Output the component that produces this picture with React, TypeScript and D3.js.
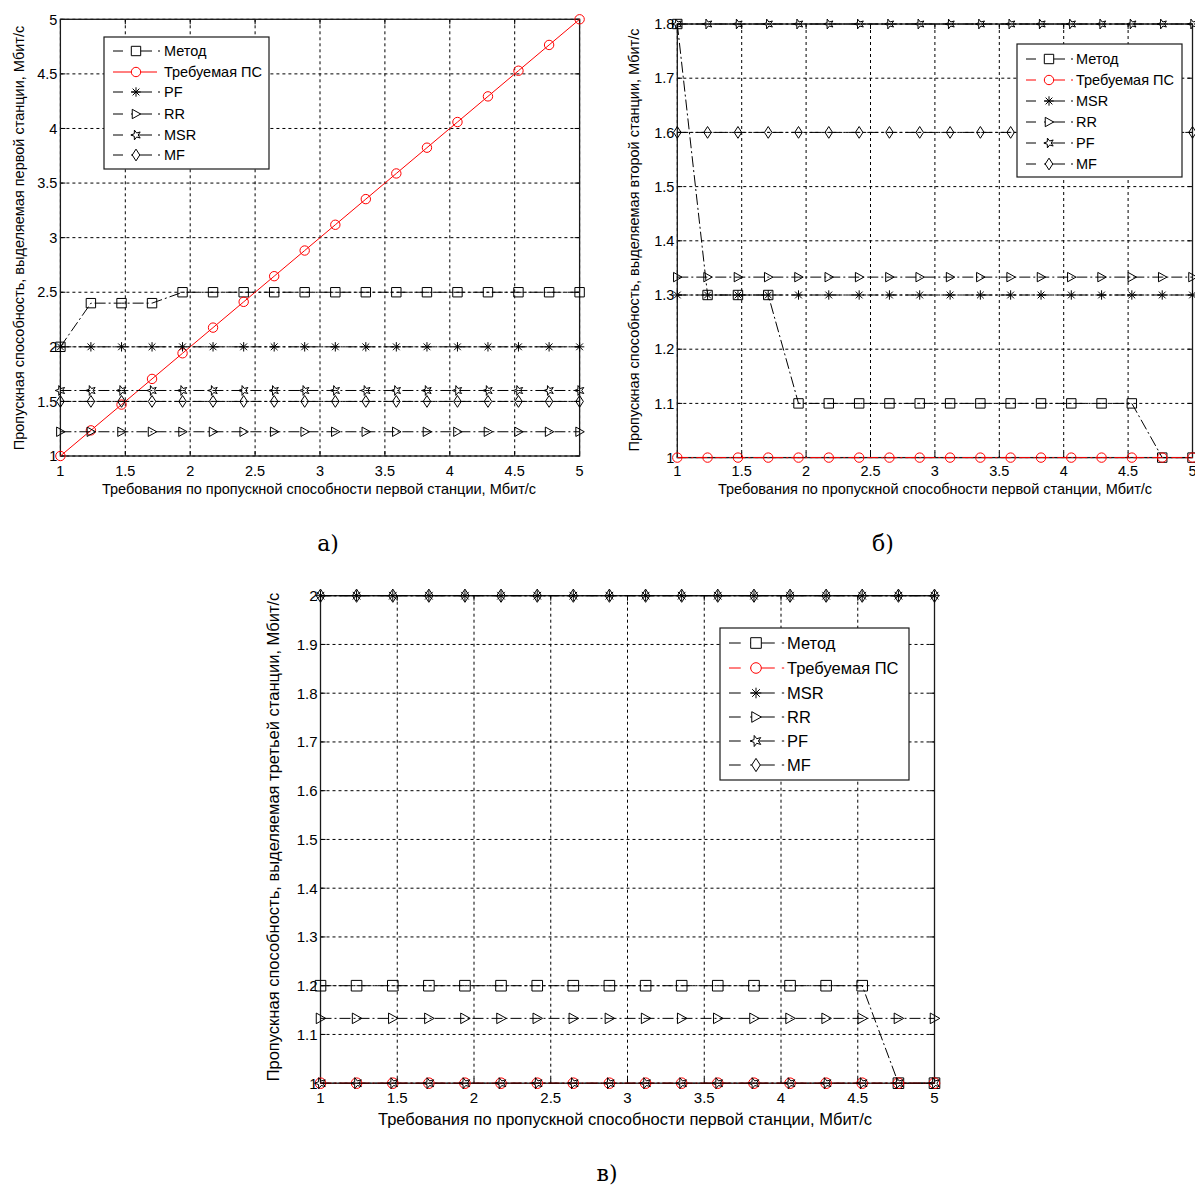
import React from 'react';
import * as d3 from 'd3';

// ---------- data ----------
const X_VALUES = [1, 1.235, 1.471, 1.706, 1.941, 2.176, 2.412, 2.647, 2.882, 3.118, 3.353, 3.588, 3.824, 4.059, 4.294, 4.529, 4.765, 5];
const X_TICKS = [1, 1.5, 2, 2.5, 3, 3.5, 4, 4.5, 5];
const X_TICK_LABELS = ['1', '1.5', '2', '2.5', '3', '3.5', '4', '4.5', '5'];

// panel а (first station)
const A_METOD = [2, 2.4, 2.4, 2.4, 2.5, 2.5, 2.5, 2.5, 2.5, 2.5, 2.5, 2.5, 2.5, 2.5, 2.5, 2.5, 2.5, 2.5];
const A_REQ = [1, 1.235, 1.471, 1.706, 1.941, 2.176, 2.412, 2.647, 2.882, 3.118, 3.353, 3.588, 3.824, 4.059, 4.294, 4.529, 4.765, 5];
const A_PF = [2, 2, 2, 2, 2, 2, 2, 2, 2, 2, 2, 2, 2, 2, 2, 2, 2, 2];
const A_RR = [1.222, 1.222, 1.222, 1.222, 1.222, 1.222, 1.222, 1.222, 1.222, 1.222, 1.222, 1.222, 1.222, 1.222, 1.222, 1.222, 1.222, 1.222];
const A_MSR = [1.6, 1.6, 1.6, 1.6, 1.6, 1.6, 1.6, 1.6, 1.6, 1.6, 1.6, 1.6, 1.6, 1.6, 1.6, 1.6, 1.6, 1.6];
const A_MF = [1.5, 1.5, 1.5, 1.5, 1.5, 1.5, 1.5, 1.5, 1.5, 1.5, 1.5, 1.5, 1.5, 1.5, 1.5, 1.5, 1.5, 1.5];
const A_Y_TICKS = [1, 1.5, 2, 2.5, 3, 3.5, 4, 4.5, 5];
const A_Y_TICK_LABELS = ['1', '1.5', '2', '2.5', '3', '3.5', '4', '4.5', '5'];

// panel б (second station)
const B_METOD = [1.8, 1.3, 1.3, 1.3, 1.1, 1.1, 1.1, 1.1, 1.1, 1.1, 1.1, 1.1, 1.1, 1.1, 1.1, 1.1, 1, 1];
const B_REQ = [1, 1, 1, 1, 1, 1, 1, 1, 1, 1, 1, 1, 1, 1, 1, 1, 1, 1];
const B_MSR = [1.3, 1.3, 1.3, 1.3, 1.3, 1.3, 1.3, 1.3, 1.3, 1.3, 1.3, 1.3, 1.3, 1.3, 1.3, 1.3, 1.3, 1.3];
const B_RR = [1.333, 1.333, 1.333, 1.333, 1.333, 1.333, 1.333, 1.333, 1.333, 1.333, 1.333, 1.333, 1.333, 1.333, 1.333, 1.333, 1.333, 1.333];
const B_PF = [1.8, 1.8, 1.8, 1.8, 1.8, 1.8, 1.8, 1.8, 1.8, 1.8, 1.8, 1.8, 1.8, 1.8, 1.8, 1.8, 1.8, 1.8];
const B_MF = [1.6, 1.6, 1.6, 1.6, 1.6, 1.6, 1.6, 1.6, 1.6, 1.6, 1.6, 1.6, 1.6, 1.6, 1.6, 1.6, 1.6, 1.6];
const B_Y_TICKS = [1, 1.1, 1.2, 1.3, 1.4, 1.5, 1.6, 1.7, 1.8];
const B_Y_TICK_LABELS = ['1', '1.1', '1.2', '1.3', '1.4', '1.5', '1.6', '1.7', '1.8'];

// panel в (third station)
const C_METOD = [1.2, 1.2, 1.2, 1.2, 1.2, 1.2, 1.2, 1.2, 1.2, 1.2, 1.2, 1.2, 1.2, 1.2, 1.2, 1.2, 1, 1];
const C_REQ = [1, 1, 1, 1, 1, 1, 1, 1, 1, 1, 1, 1, 1, 1, 1, 1, 1, 1];
const C_MSR = [2, 2, 2, 2, 2, 2, 2, 2, 2, 2, 2, 2, 2, 2, 2, 2, 2, 2];
const C_RR = [1.133, 1.133, 1.133, 1.133, 1.133, 1.133, 1.133, 1.133, 1.133, 1.133, 1.133, 1.133, 1.133, 1.133, 1.133, 1.133, 1.133, 1.133];
const C_PF = [1, 1, 1, 1, 1, 1, 1, 1, 1, 1, 1, 1, 1, 1, 1, 1, 1, 1];
const C_MF = [2, 2, 2, 2, 2, 2, 2, 2, 2, 2, 2, 2, 2, 2, 2, 2, 2, 2];
const C_Y_TICKS = [1, 1.1, 1.2, 1.3, 1.4, 1.5, 1.6, 1.7, 1.8, 1.9, 2];
const C_Y_TICK_LABELS = ['1', '1.1', '1.2', '1.3', '1.4', '1.5', '1.6', '1.7', '1.8', '1.9', '2'];

const A_NAMES = ['Метод', 'Требуемая ПС', 'PF', 'RR', 'MSR', 'MF'];
const BC_NAMES = ['Метод', 'Требуемая ПС', 'MSR', 'RR', 'PF', 'MF'];

const X_LABEL = 'Требования по пропускной способности первой станции, Мбит/с';
const Y_LABELS = [
  'Пропускная способность, выделяемая первой станции, Мбит/с',
  'Пропускная способность, выделяемая второй станции, Мбит/с',
  'Пропускная способность, выделяемая третьей станции, Мбит/с',
];

// ---------- drawing ----------
const FONT = '"Liberation Sans", Arial, sans-serif';
const DASHDOT = '11,3,2,3';

type Marker = 'square' | 'circle' | 'asterisk' | 'tri' | 'star' | 'diamond';

function markerPath(kind: Marker, r: number): string {
  switch (kind) {
    case 'square':
      return `M${-r},${-r}H${r}V${r}H${-r}Z`;
    case 'circle':
      return `M${r},0A${r},${r} 0 1,1 ${-r},0A${r},${r} 0 1,1 ${r},0Z`;
    case 'asterisk': {
      const k = r * 0.72;
      return `M${-r},0H${r}M0,${-r}V${r}M${-k},${-k}L${k},${k}M${-k},${k}L${k},${-k}`;
    }
    case 'tri':
      return `M${-0.8 * r},${-r}L${r},0L${-0.8 * r},${r}Z`;
    case 'star': {
      const pts: string[] = [];
      for (let i = 0; i < 10; i++) {
        const rr = i % 2 === 0 ? r * 1.1 : r * 0.45;
        const a = Math.PI + (i * Math.PI) / 5;
        pts.push(`${(rr * Math.cos(a)).toFixed(2)},${(rr * Math.sin(a)).toFixed(2)}`);
      }
      return 'M' + pts.join('L') + 'Z';
    }
    case 'diamond':
      return `M0,${-1.25 * r}L${0.8 * r},0L0,${1.25 * r}L${-0.8 * r},0Z`;
  }
}

interface Series {
  name: string;
  values: number[];
  marker: Marker;
  color: string;
  solid?: boolean;
}

interface PanelCfg {
  left: number; right: number; top: number; bottom: number;
  yDomain: [number, number];
  yTicks: number[]; yTickLabels: string[];
  series: Series[];
  legend: { x0: number; y0: number; x1: number; y1: number; rows: number[]; lineX0: number; markerX: number; textX: number };
  tickFont: number; labelFont: number; legendFont: number;
  xLabelX: number; xLabelY: number; yLabelX: number; yLabelY: number;
  yLabel: string;
  tickBaseline: number;
  r: number;
}

function Panel({ cfg }: { cfg: PanelCfg }) {
  const x = d3.scaleLinear().domain([1, 5]).range([cfg.left, cfg.right]);
  const y = d3.scaleLinear().domain(cfg.yDomain).range([cfg.bottom, cfg.top]);
  const line = d3.line<number>().x((_, i) => x(X_VALUES[i])).y((d) => y(d));
  const L = cfg.legend;
  const s = (L.markerX - L.lineX0) / 23;
  const tk = 5;
  return (
    <g>
      {/* grid */}
      {X_TICKS.map((t, i) => (
        <line key={'gx' + i} x1={x(t)} x2={x(t)} y1={cfg.top} y2={cfg.bottom} stroke="#000" strokeWidth={1} strokeDasharray="3,3" />
      ))}
      {cfg.yTicks.map((t, i) => (
        <line key={'gy' + i} x1={cfg.left} x2={cfg.right} y1={y(t)} y2={y(t)} stroke="#000" strokeWidth={1} strokeDasharray="3,3" />
      ))}
      {/* tick marks */}
      {X_TICKS.map((t, i) => (
        <g key={'tx' + i} stroke="#000" strokeWidth={1}>
          <line x1={x(t)} x2={x(t)} y1={cfg.bottom} y2={cfg.bottom - tk} />
          <line x1={x(t)} x2={x(t)} y1={cfg.top} y2={cfg.top + tk} />
        </g>
      ))}
      {cfg.yTicks.map((t, i) => (
        <g key={'ty' + i} stroke="#000" strokeWidth={1}>
          <line x1={cfg.left} x2={cfg.left + tk} y1={y(t)} y2={y(t)} />
          <line x1={cfg.right} x2={cfg.right - tk} y1={y(t)} y2={y(t)} />
        </g>
      ))}
      {/* frame */}
      <rect x={cfg.left} y={cfg.top} width={cfg.right - cfg.left} height={cfg.bottom - cfg.top} fill="none" stroke="#1a1a1a" strokeWidth={1.3} />
      {/* series */}
      {cfg.series.map((sr, si) => (
        <g key={'s' + si}>
          <path d={line(sr.values) || ''} fill="none" stroke={sr.color} strokeWidth={1} strokeDasharray={sr.solid ? undefined : DASHDOT} />
          {sr.values.map((v, i) => (
            <path key={i} d={markerPath(sr.marker, cfg.r)} transform={`translate(${x(X_VALUES[i])},${y(v)})`} fill="none" stroke={sr.color} strokeWidth={1} />
          ))}
        </g>
      ))}
      {/* tick labels */}
      {X_TICKS.map((t, i) => (
        <text key={'lx' + i} x={x(t)} y={cfg.tickBaseline} textAnchor="middle" fontFamily={FONT} fontSize={cfg.tickFont} fill="#000">{X_TICK_LABELS[i]}</text>
      ))}
      {cfg.yTicks.map((t, i) => (
        <text key={'ly' + i} x={cfg.left - 3} y={y(t) + cfg.tickFont * 0.36} textAnchor="end" fontFamily={FONT} fontSize={cfg.tickFont} fill="#000">{cfg.yTickLabels[i]}</text>
      ))}
      {/* axis labels */}
      <text x={cfg.xLabelX} y={cfg.xLabelY} textAnchor="middle" fontFamily={FONT} fontSize={cfg.labelFont} fill="#000">{X_LABEL}</text>
      <text transform={`translate(${cfg.yLabelX},${cfg.yLabelY}) rotate(-90)`} textAnchor="middle" fontFamily={FONT} fontSize={cfg.labelFont} fill="#000">{cfg.yLabel}</text>
      {/* legend */}
      <rect x={L.x0} y={L.y0} width={L.x1 - L.x0} height={L.y1 - L.y0} fill="#fff" stroke="#1a1a1a" strokeWidth={1.2} />
      {cfg.series.map((sr, i) => (
        <g key={'lg' + i}>
          <line x1={L.lineX0} x2={L.lineX0 + (sr.solid ? 44 : 47) * s} y1={L.rows[i]} y2={L.rows[i]} stroke={sr.color} strokeWidth={1}
            strokeDasharray={sr.solid ? undefined : `${10 * s},${8 * s},${21 * s},${6 * s},${2 * s},400`} />
          <path d={markerPath(sr.marker, cfg.r)} transform={`translate(${L.markerX},${L.rows[i]})`} fill="#fff" stroke={sr.color} strokeWidth={1} />
          <text x={L.textX} y={L.rows[i] + cfg.legendFont * 0.36} fontFamily={FONT} fontSize={cfg.legendFont} fill="#000">{sr.name}</text>
        </g>
      ))}
    </g>
  );
}

const BLACK = '#000';
const RED = '#ff0000';

const panelA: PanelCfg = {
  left: 60.4, right: 579.6, top: 19.3, bottom: 456,
  yDomain: [1, 5], yTicks: A_Y_TICKS, yTickLabels: A_Y_TICK_LABELS,
  series: [
    { name: A_NAMES[0], values: A_METOD, marker: 'square', color: BLACK },
    { name: A_NAMES[1], values: A_REQ, marker: 'circle', color: RED, solid: true },
    { name: A_NAMES[2], values: A_PF, marker: 'asterisk', color: BLACK },
    { name: A_NAMES[3], values: A_RR, marker: 'tri', color: BLACK },
    { name: A_NAMES[4], values: A_MSR, marker: 'star', color: BLACK },
    { name: A_NAMES[5], values: A_MF, marker: 'diamond', color: BLACK },
  ],
  legend: { x0: 104, y0: 37, x1: 269, y1: 169, rows: [51, 72, 92, 114, 135, 155], lineX0: 113, markerX: 136, textX: 164 },
  tickFont: 14.5, labelFont: 14.5, legendFont: 14.5,
  xLabelX: 319, xLabelY: 494, yLabelX: 24, yLabelY: 238,
  yLabel: Y_LABELS[0], tickBaseline: 476, r: 4.7,
};

const panelB: PanelCfg = {
  left: 677.3, right: 1192.5, top: 24, bottom: 457.6,
  yDomain: [1, 1.8], yTicks: B_Y_TICKS, yTickLabels: B_Y_TICK_LABELS,
  series: [
    { name: BC_NAMES[0], values: B_METOD, marker: 'square', color: BLACK },
    { name: BC_NAMES[1], values: B_REQ, marker: 'circle', color: RED },
    { name: BC_NAMES[2], values: B_MSR, marker: 'asterisk', color: BLACK },
    { name: BC_NAMES[3], values: B_RR, marker: 'tri', color: BLACK },
    { name: BC_NAMES[4], values: B_PF, marker: 'star', color: BLACK },
    { name: BC_NAMES[5], values: B_MF, marker: 'diamond', color: BLACK },
  ],
  legend: { x0: 1017, y0: 44, x1: 1182, y1: 177, rows: [59, 80, 101, 122, 143, 164], lineX0: 1026, markerX: 1049, textX: 1076 },
  tickFont: 14.5, labelFont: 14.5, legendFont: 14.5,
  xLabelX: 935, xLabelY: 494, yLabelX: 639, yLabelY: 240,
  yLabel: Y_LABELS[1], tickBaseline: 476, r: 4.7,
};

const panelC: PanelCfg = {
  left: 320.5, right: 934.5, top: 595.7, bottom: 1083.2,
  yDomain: [1, 2], yTicks: C_Y_TICKS, yTickLabels: C_Y_TICK_LABELS,
  series: [
    { name: BC_NAMES[0], values: C_METOD, marker: 'square', color: BLACK },
    { name: BC_NAMES[1], values: C_REQ, marker: 'circle', color: RED },
    { name: BC_NAMES[2], values: C_MSR, marker: 'asterisk', color: BLACK },
    { name: BC_NAMES[3], values: C_RR, marker: 'tri', color: BLACK },
    { name: BC_NAMES[4], values: C_PF, marker: 'star', color: BLACK },
    { name: BC_NAMES[5], values: C_MF, marker: 'diamond', color: BLACK },
  ],
  legend: { x0: 720, y0: 628, x1: 909, y1: 780, rows: [643, 668, 693, 717, 741, 765], lineX0: 729, markerX: 756, textX: 787 },
  tickFont: 15, labelFont: 16.5, legendFont: 16.5,
  xLabelX: 625, xLabelY: 1125, yLabelX: 279, yLabelY: 837,
  yLabel: Y_LABELS[2], tickBaseline: 1103, r: 5.3,
};

const CAPTIONS = [
  { text: 'а)', x: 328, y: 551 },
  { text: 'б)', x: 883, y: 551 },
  { text: 'в)', x: 607, y: 1181 },
];

export default function App() {
  return (
    <svg width={1195} height={1187} viewBox="0 0 1195 1187" style={{ position: 'absolute', left: 0, top: 0, background: '#fff' }}>
      <rect x={0} y={0} width={1195} height={1187} fill="#fff" />
      <Panel cfg={panelA} />
      <Panel cfg={panelB} />
      <Panel cfg={panelC} />
      {CAPTIONS.map((c, i) => (
        <text key={i} x={c.x} y={c.y} textAnchor="middle" fontFamily='"DejaVu Serif", serif' fontSize={22} fill="#000">{c.text}</text>
      ))}
    </svg>
  );
}
